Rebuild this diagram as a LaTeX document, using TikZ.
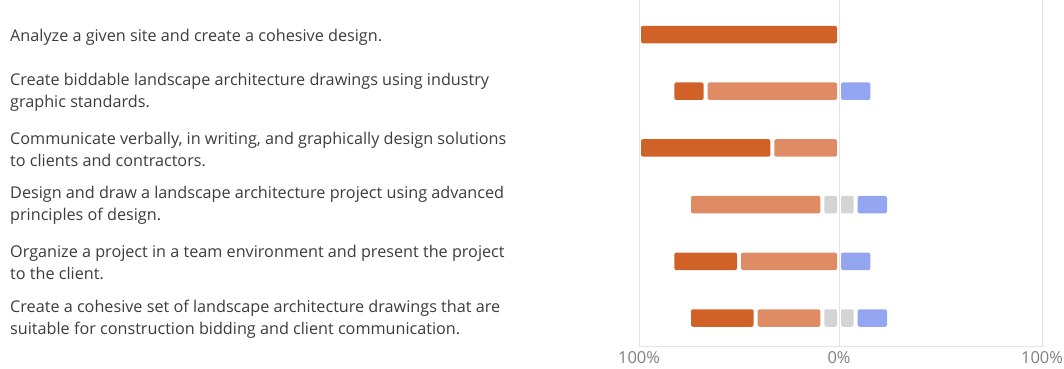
\documentclass[tikz,border=0pt]{standalone}
\usepackage{fontspec}
\setmainfont{Open Sans}
\usetikzlibrary{positioning}

\definecolor{strongdis}{HTML}{D06228}
\definecolor{dis}{HTML}{DF8C64}
\definecolor{neutral}{HTML}{D4D4D4}
\definecolor{agree}{HTML}{94A5F2}
\definecolor{gridline}{HTML}{E4E4E4}
\definecolor{itemtext}{HTML}{3C3C3C}
\definecolor{ticktext}{HTML}{808080}

% one bar piece: colour, from, to, row centre
\newcommand{\barpiece}[4]{%
  \fill[#1, rounded corners=2pt] ({#2+2},{#4-8.75}) rectangle ({#3-2},{#4+8.75});}

\begin{document}
\begin{tikzpicture}[x=1pt, y=-1pt,
  item/.style = {anchor=west, align=left, inner sep=0pt, text=itemtext,
                 font=\fontsize{16.2}{22}\selectfont},
  tick/.style = {inner sep=0pt, text=ticktext, font=\fontsize{16.5}{18}\selectfont}
  ]
  \useasboundingbox (0,0) rectangle (1064,368);

  % frame and zero line
  \draw[gridline] (639,0) -- (639,346) -- (1042,346) -- (1042,0);
  \draw[gridline] (839,0) -- (839,346);

  % statements
  \node[item] (item1) at (10,37) {Analyze a given site and create a cohesive design.};
  \node[item] (item2) at (10,92) {Create biddable landscape architecture drawings using industry\\graphic standards.};
  \node[item] (item3) at (10,149) {Communicate verbally, in writing, and graphically design solutions\\to clients and contractors.};
  \node[item] (item4) at (10,205) {Design and draw a landscape architecture project using advanced\\principles of design.};
  \node[item] (item5) at (10,262) {Organize a project in a team environment and present the project\\to the client.};
  \node[item] (item6) at (10,319) {Create a cohesive set of landscape architecture drawings that are\\suitable for construction bidding and client communication.};

  % bars: row / strongly / disagree / neutral / agree (in sixths)
  \foreach \row/\sd/\d/\n/\a in {1/6/0/0/0, 2/1/4/0/1, 3/4/2/0/0,
                                  4/0/4/1/1, 5/2/3/0/1, 6/2/2/1/1} {
    \pgfmathsetmacro{\yc}{34.5+56.7*(\row-1)}
    \pgfmathsetmacro{\u}{200/6}
    \pgfmathsetmacro{\na}{839-\n*\u/2}
    \pgfmathsetmacro{\nb}{839+\n*\u/2}
    \pgfmathsetmacro{\da}{\na-\d*\u}
    \pgfmathsetmacro{\sa}{\da-\sd*\u}
    \pgfmathsetmacro{\ab}{\nb+\a*\u}
    \ifnum\sd>0 \barpiece{strongdis}{\sa}{\da}{\yc} \fi
    \ifnum\d>0 \barpiece{dis}{\da}{\na}{\yc} \fi
    \ifnum\n>0 \barpiece{neutral}{\na}{839}{\yc} \barpiece{neutral}{839}{\nb}{\yc} \fi
    \ifnum\a>0 \barpiece{agree}{\nb}{\ab}{\yc} \fi
  }

  % axis labels
  \node[tick] (tickl) at (639,358) {100\%};
  \node[tick] (tickm) at (839,358) {0\%};
  \node[tick] (tickr) at (1042,358) {100\%};
\end{tikzpicture}
\end{document}
